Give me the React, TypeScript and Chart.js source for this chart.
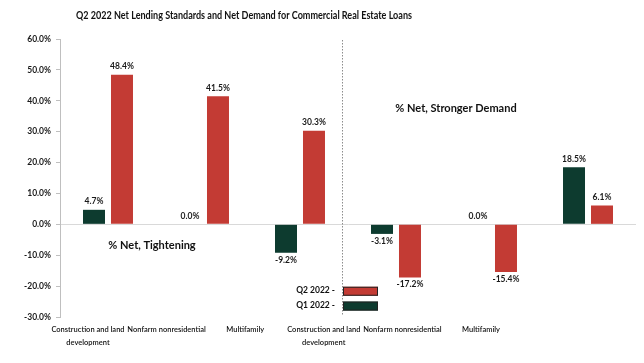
import React, { useEffect, useRef } from "react";
import { Chart, registerables } from "chart.js";

Chart.register(...registerables);

const TITLE = "Q2 2022 Net Lending Standards and Net Demand for Commercial Real Estate Loans";
const categoryLabels: string[][] = [
  ["Construction and land", "development"],
  ["Nonfarm nonresidential"],
  ["Multifamily"],
  ["Construction and land", "development"],
  ["Nonfarm nonresidential"],
  ["Multifamily"],
];
const q1Values = [4.7, 0.0, -9.2, -3.1, 0.0, 18.5];
const q2Values = [48.4, 41.5, 30.3, -17.2, -15.4, 6.1];
const seriesNames = ["Q1 2022", "Q2 2022"];
const yMin = -30;
const yMax = 60;
const yStep = 10;
const noteLeft = "% Net, Tightening";
const noteRight = "% Net, Stronger Demand";

const GREEN = "#0d3b2f";
const RED = "#c33b34";
const FONT = "Lato, 'Liberation Sans', Arial, sans-serif";

const decorPlugin = {
  id: "decor",
  afterDatasetsDraw(chart: any) {
    const ctx = chart.ctx;
    ctx.save();
    ctx.font = `bold 8.5px ${FONT}`;
    ctx.fillStyle = "#1a1a1a";
    ctx.textAlign = "center";
    chart.data.datasets.forEach((ds: any, di: number) => {
      const meta = chart.getDatasetMeta(di);
      meta.data.forEach((el: any, i: number) => {
        const v = ds.data[i];
        const txt = v.toFixed(1) + "%";
        if (v >= 0) {
          ctx.textBaseline = "bottom";
          ctx.fillText(txt, el.x, el.y - 4);
        } else {
          ctx.textBaseline = "top";
          ctx.fillText(txt, el.x, el.y + 3);
        }
      });
    });
    const x = chart.scales.x;
    const y = chart.scales.y;
    const divX = (x.getPixelForValue(2) + x.getPixelForValue(3)) / 2 - 6;
    ctx.strokeStyle = "#8c8c8c";
    ctx.lineWidth = 1;
    ctx.setLineDash([1.5, 1.5]);
    ctx.beginPath();
    ctx.moveTo(divX + 0.5, y.top + 1);
    ctx.lineTo(divX + 0.5, y.bottom - 2);
    ctx.stroke();
    ctx.setLineDash([]);
    ctx.font = `bold 11px ${FONT}`;
    ctx.fillStyle = "#111";
    ctx.textBaseline = "middle";
    ctx.textAlign = "center";
    ctx.fillText(noteLeft, x.getPixelForValue(0) + 44, y.getPixelForValue(-6.8));
    ctx.fillText(noteRight, x.getPixelForValue(3) + 60, y.getPixelForValue(37.6));
    const legendRows = [
      { name: seriesNames[1], color: RED, v: -21.5 },
      { name: seriesNames[0], color: GREEN, v: -26.3 },
    ];
    ctx.font = `bold 8.5px ${FONT}`;
    legendRows.forEach((r) => {
      const cy = y.getPixelForValue(r.v);
      ctx.textAlign = "right";
      ctx.fillStyle = "#111";
      ctx.fillText(r.name + " -", divX - 7, cy);
      ctx.fillStyle = r.color;
      ctx.fillRect(divX + 1, cy - 4, 35, 9);
      ctx.strokeStyle = "#222";
      ctx.lineWidth = 1;
      ctx.strokeRect(divX + 1.5, cy - 3.5, 34, 8);
    });
    ctx.font = `bold 10.5px ${FONT}`;
    ctx.textAlign = "center";
    ctx.fillStyle = "#111";
    ctx.fillText(TITLE, 244, 16, 336);
    ctx.restore();
  },
};

export default function App() {
  const ref = useRef<HTMLCanvasElement>(null);
  useEffect(() => {
    if (!ref.current) return;
    const chart = new Chart(ref.current, {
      type: "bar",
      data: {
        labels: categoryLabels.map((l) => l.join(" ")),
        datasets: [
          { label: seriesNames[0], data: q1Values, backgroundColor: GREEN, categoryPercentage: 0.583, barPercentage: 0.786 },
          { label: seriesNames[1], data: q2Values, backgroundColor: RED, categoryPercentage: 0.583, barPercentage: 0.786 },
        ],
      },
      options: {
        responsive: false,
        animation: false,
        layout: { padding: { left: 0, right: 8, top: 39, bottom: 0 } },
        plugins: { legend: { display: false }, title: { display: false }, tooltip: { enabled: false } },
        scales: {
          x: { display: false },
          x2: {
            type: "linear",
            position: "bottom",
            offset: false,
            min: -0.356,
            max: 6.972,
            grid: { display: false, drawTicks: false, tickLength: 0, offset: false },
            border: { display: false },
            afterBuildTicks: (axis: any) => {
              axis.ticks = categoryLabels.map((_, i) => ({ value: i }));
            },
            afterFit: (axis: any) => {
              axis.height = 46;
            },
            ticks: {
              autoSkip: false,
              maxRotation: 0,
              minRotation: 0,
              padding: 6,
              color: "#111",
              font: { family: FONT, size: 7.5, weight: "600", lineHeight: 1.7 },
              callback: (v: any) => categoryLabels[Math.round(v)] ?? "",
            },
          },
          y: {
            min: yMin,
            max: yMax,
            afterFit: (axis: any) => {
              axis.width = 60;
            },
            border: { display: true, color: "#bfbfbf" },
            grid: {
              drawOnChartArea: true,
              drawTicks: true,
              tickLength: 4,
              tickColor: "#bfbfbf",
              color: (c: any) => (c.tick && c.tick.value === 0 ? "#d9d9d9" : "rgba(0,0,0,0)"),
            },
            ticks: {
              stepSize: yStep,
              padding: 5,
              color: "#1a1a1a",
              font: { family: FONT, size: 8.5, weight: "bold" },
              callback: (v: any) => Number(v).toFixed(1) + "%",
            },
          },
        },
      },
      plugins: [decorPlugin],
    } as any);
    return () => chart.destroy();
  }, []);
  return (
    <canvas
      ref={ref}
      width={644}
      height={363}
      style={{ position: "absolute", left: 0, top: 0, width: 644, height: 363, display: "block" }}
    />
  );
}
